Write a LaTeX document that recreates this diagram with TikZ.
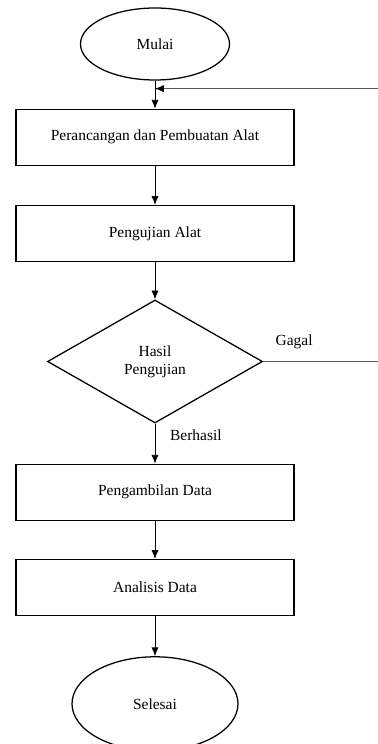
\documentclass[tikz,border=0pt]{standalone}
\usepackage{fontspec}
\setmainfont{Liberation Serif}
\usepackage{tikz}
\usetikzlibrary{shapes,arrows.meta,positioning}

\begin{document}
\begin{tikzpicture}[
    node distance=1.0cm,
    box/.style={rectangle, draw, line width=0.9pt, minimum width=6.95cm, minimum height=1.4cm, align=center, font=\fontsize{11}{13}\selectfont},
    term/.style={ellipse, draw, line width=0.9pt, align=center, font=\fontsize{11}{13}\selectfont},
    decision/.style={diamond, draw, line width=0.9pt, inner sep=0pt, minimum width=5.375cm, minimum height=3.075cm, align=center, font=\fontsize{11}{13}\selectfont},
    lbl/.style={font=\fontsize{11}{13}\selectfont},
    arrow/.style={-{Latex[length=2.2mm, width=1.8mm]}, line width=0.6pt},
    back/.style={-{Latex[black, length=2.2mm, width=1.8mm]}, line width=0.6pt, black!65}
]
\useasboundingbox (0,0) rectangle (9.425,-18.6);

% Flow
\node[term, minimum width=3.725cm, minimum height=1.8cm] (mulai) at (3.875,-1.1) {Mulai};
\node[box, below=0.7cm of mulai] (rancang) {Perancangan dan Pembuatan Alat};
\node[box, below=0.975cm of rancang] (uji) {Pengujian Alat};
\node[decision, below=0.93cm of uji] (hasil) {Hasil\\Pengujian};
\node[box, below=1.0cm of hasil] (ambil) {Pengambilan Data};
\node[box, below=0.95cm of ambil] (analisis) {Analisis Data};
\node[term, minimum width=4.15cm, minimum height=2.35cm, below=1.0cm of analisis] (selesai) {Selesai};

\coordinate[below=0.2cm of mulai] (join);

% Arrows
\draw[arrow] (mulai) -- (rancang);
\draw[arrow] (rancang) -- (uji);
\draw[arrow] (uji) -- (hasil);
\draw[arrow] (hasil) -- node[lbl, right, pos=0.3, xshift=0.25cm] {Berhasil} (ambil);
\draw[arrow] (ambil) -- (analisis);
\draw[arrow] (analisis) -- (selesai);
\draw[back] (hasil.east) -- node[lbl, black, above, pos=0.25, yshift=0.2cm] {Gagal} ++(3.1,0) |- (join);

\end{tikzpicture}
\end{document}
